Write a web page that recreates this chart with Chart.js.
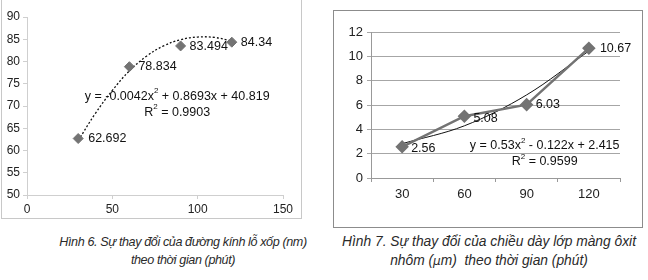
<!DOCTYPE html>
<html>
<head>
<meta charset="utf-8">
<script src="https://cdn.jsdelivr.net/npm/chart.js@4.4.0/dist/chart.umd.min.js"></script>
<style>
  body { margin: 0; background: #fff; width: 648px; height: 280px; overflow: hidden; position: relative; font-family: "Liberation Sans", Arial, sans-serif; }
  .box { position: absolute; }
  .frame { position: absolute; box-sizing: border-box; }
  .caption { position: absolute; text-align: center; font-style: italic; line-height: 18px; color: #2a2a2a; white-space: nowrap; }
</style>
</head>
<body>
<div class="frame" style="left:1px; top:-4px; width:301px; height:223px; border:1px solid #c8c8c8;"></div>
<div class="box" style="left:0; top:0; width:301px; height:218px;"><canvas id="chart6"></canvas></div>

<div class="frame" style="left:333px; top:10px; width:310px; height:218px; border:1px solid #8c8c8c;"></div>
<div class="box" style="left:334px; top:11px; width:307px; height:216px;"><canvas id="chart7"></canvas></div>

<div class="caption" style="left:33px; width:300px; top:233px; font-size:12.6px; letter-spacing:-0.4px;">Hình 6. Sự thay đổi của đường kính lỗ xốp (nm)<br>theo thời gian (phút)</div>
<div class="caption" style="left:339px; width:300px; top:232px; font-size:13.8px; line-height:19px;">Hình 7. Sự thay đổi của chiều dày lớp màng ôxit<br>nhôm (<span style="font-family:'DejaVu Sans'; font-size:12px;">μ</span>m)&nbsp; theo thời gian (phút)</div>

<script>
// Hình 6: đường kính lỗ xốp theo thời gian
const time6 = [30, 60, 90, 120]
const diameter = [62.692, 78.834, 83.494, 84.34]
// dotted polynomial trend
const trend6X = [30, 40, 50, 60, 70, 80, 90, 100, 110, 120]
const trend6Y = [62.2, 68.3, 73.5, 77.9, 81.2, 83.5, 84.9, 85.5, 85.4, 84.6]
const eq6 = ['y = -0.0042x² + 0.8693x + 40.819', 'R² = 0.9903']

// Hình 7: chiều dày lớp màng ôxit
const time7 = ['30', '60', '90', '120']
const thickness = [2.56, 5.08, 6.03, 10.67]
const trend7 = [2.82, 4.29, 6.83, 10.44]
const eq7 = ['y = 0.53x² - 0.122x + 2.415', 'R² = 0.9599']

const font6 = { family: '"Liberation Sans", Arial, sans-serif', size: 12 }
const font7 = { family: '"Liberation Sans", Arial, sans-serif', size: 13 }
const markerColor = '#737373'

function drawSup(ctx, text, x, y) {
    // draws text centered at x, with the "²" as a small superscript
    const parts = text.split('²')
    const big = '12.5px "Liberation Sans", Arial, sans-serif'
    const small = '8px "Liberation Sans", Arial, sans-serif'
    let w = 0
    parts.forEach((p, i) => {
        ctx.font = big
        w += ctx.measureText(p).width
        if (i < parts.length - 1) { ctx.font = small; w += ctx.measureText('2').width }
    })
    let cx = x - w / 2
    ctx.textAlign = 'left'
    ctx.textBaseline = 'middle'
    parts.forEach((p, i) => {
        ctx.font = big
        ctx.fillText(p, cx, y)
        cx += ctx.measureText(p).width
        if (i < parts.length - 1) {
            ctx.font = small
            ctx.fillText('2', cx, y - 5)
            cx += ctx.measureText('2').width
        }
    })
}

function labelsPlugin(opts) {
    return {
        id: 'labels_' + opts.id,
        afterDatasetsDraw(chart) {
            const ctx = chart.ctx
            const meta = chart.getDatasetMeta(opts.dataset)
            const values = chart.data.datasets[opts.dataset].data
            ctx.save()
            ctx.fillStyle = '#111'
            ctx.font = '12.5px "Liberation Sans", Arial, sans-serif'
            ctx.textAlign = 'left'
            ctx.textBaseline = 'middle'
            meta.data.forEach((pt, i) => {
                const v = typeof values[i] === 'object' ? values[i].y : values[i]
                const off = opts.offsets[i]
                ctx.fillText(String(v), pt.x + off[0], pt.y + off[1])
            })
            const xs = chart.scales.x, ys = chart.scales.y
            opts.eq.forEach((line, i) => {
                drawSup(ctx, line, xs.getPixelForValue(opts.eqPos[0]), ys.getPixelForValue(opts.eqPos[1][i]))
            })
            ctx.restore()
        }
    }
}

function fixWidth(w) { return scale => { scale.width = w } }
function fixHeight(h) { return scale => { scale.height = h } }

new Chart(document.getElementById('chart6'), {
    type: 'scatter',
    data: {
        datasets: [{
            data: time6.map((t, i) => ({ x: t, y: diameter[i] })),
            pointStyle: 'rectRot',
            pointRadius: 5,
            backgroundColor: markerColor,
            borderColor: markerColor,
            showLine: false,
            order: 1
        }, {
            data: trend6X.map((t, i) => ({ x: t, y: trend6Y[i] })),
            showLine: true,
            pointRadius: 0,
            borderColor: '#111',
            borderWidth: 1.3,
            borderDash: [2, 2],
            tension: 0.4,
            order: 2
        }]
    },
    options: {
        responsive: true,
        maintainAspectRatio: false,
        animation: false,
        layout: { padding: { left: 0, right: 18, top: 17, bottom: 0 } },
        plugins: { legend: { display: false }, tooltip: { enabled: false } },
        scales: {
            x: {
                type: 'linear', min: 0, max: 150,
                ticks: { stepSize: 50, color: '#222', font: font6, padding: 3 },
                grid: { drawOnChartArea: false, tickLength: 4, color: '#cfcfcf' },
                border: { color: '#cfcfcf' },
                afterFit: fixHeight(23)
            },
            y: {
                min: 50, max: 90,
                ticks: { stepSize: 5, color: '#222', font: font6, padding: 3 },
                grid: { drawOnChartArea: false, tickLength: 4, color: '#cfcfcf' },
                border: { color: '#cfcfcf' },
                afterFit: fixWidth(27)
            }
        }
    },
    plugins: [labelsPlugin({
        id: 6, dataset: 0, eq: eq6, eqPos: [88, [72.2, 68.6]],
        offsets: [[10, 0], [9, 0], [9, 1], [9, 0]]
    })]
})

new Chart(document.getElementById('chart7'), {
    type: 'line',
    data: {
        labels: time7,
        datasets: [{
            data: thickness,
            pointStyle: 'rectRot',
            pointRadius: 5,
            backgroundColor: markerColor,
            borderColor: markerColor,
            borderWidth: 2.5,
            order: 1
        }, {
            data: trend7,
            pointRadius: 0,
            borderColor: '#111',
            borderWidth: 1,
            tension: 0.35,
            order: 2
        }]
    },
    options: {
        responsive: true,
        maintainAspectRatio: false,
        animation: false,
        layout: { padding: { left: 0, right: 21, top: 21, bottom: 0 } },
        plugins: { legend: { display: false }, tooltip: { enabled: false } },
        scales: {
            x: {
                offset: true,
                ticks: { color: '#222', font: font7, padding: 5 },
                grid: { offset: true, drawOnChartArea: false, tickLength: 4, color: '#999' },
                border: { color: '#999' },
                afterFit: fixHeight(49)
            },
            y: {
                min: 0, max: 12,
                ticks: { stepSize: 2, color: '#222', font: font7, padding: 4 },
                grid: { tickLength: 4, color: '#a6a6a6' },
                border: { color: '#999' },
                afterFit: fixWidth(37)
            }
        }
    },
    plugins: [labelsPlugin({
        id: 7, dataset: 0, eq: eq7, eqPos: [2.29, [2.63, 1.32]],
        offsets: [[9, 2], [9, 2], [9, 0], [11, 0]]
    })]
})
</script>
</body>
</html>
